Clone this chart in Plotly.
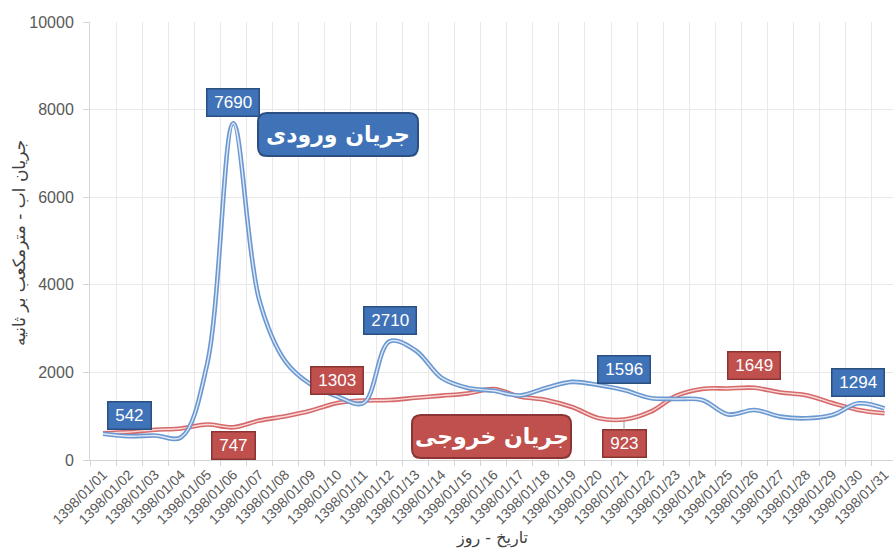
import plotly.graph_objects as go

# ---------------- data ----------------
dates = ["1398/01/01", "1398/01/02", "1398/01/03", "1398/01/04", "1398/01/05",
         "1398/01/06", "1398/01/07", "1398/01/08", "1398/01/09", "1398/01/10",
         "1398/01/11", "1398/01/12", "1398/01/13", "1398/01/14", "1398/01/15",
         "1398/01/16", "1398/01/17", "1398/01/18", "1398/01/19", "1398/01/20",
         "1398/01/21", "1398/01/22", "1398/01/23", "1398/01/24", "1398/01/25",
         "1398/01/26", "1398/01/27", "1398/01/28", "1398/01/29", "1398/01/30",
         "1398/01/31"]

inflow = [600, 542, 560, 520, 2200, 7690, 3650, 2250, 1714, 1450,
          1300, 2710, 2500, 1874, 1646, 1580, 1474, 1646, 1783, 1714,
          1596, 1417, 1394, 1370, 1040, 1143, 990, 953, 1029, 1294, 1177]

outflow = [610, 640, 690, 720, 810, 747, 900, 1000, 1130, 1303,
           1360, 1370, 1420, 1470, 1520, 1620, 1450, 1371, 1211, 960,
           923, 1097, 1463, 1623, 1634, 1649, 1543, 1479, 1300, 1143, 1067]

inflow_labels = [1, 5, 11, 20, 29]      # indices of labelled inflow points
outflow_labels = [5, 9, 20, 25]         # indices of labelled outflow points

y_title = "جریان اب - مترمکعب بر ثانیه"
x_title = "تاریخ - روز"
inflow_name = "جریان ورودی"
outflow_name = "جریان خروجی"

# ---------------- styling ----------------
W, H = 893, 550
ML, MT, MB = 90, 22, 90
PW, PH = W - ML, H - MT - MB
STEP = 26.05   # px per category

BLUE_OUT, BLUE_IN = "#6b98d0", "#dfe9f7"
RED_OUT, RED_IN = "#d66a6a", "#f8dada"
BLUE_BOX, BLUE_EDGE = "#3f72b6", "#2b4f80"
RED_BOX, RED_EDGE = "#c0504d", "#8a3533"
GRID = "#e9e9e9"
AXIS = "#d4d4d4"
TXT = "#595959"
NUMFONT = "Liberation Sans, Arial, sans-serif"
FAFONT = "DejaVu Sans, sans-serif"

x = list(range(len(dates)))

fig = go.Figure()
for ys, c_out, c_in, nm in [(outflow, RED_OUT, RED_IN, outflow_name),
                            (inflow, BLUE_OUT, BLUE_IN, inflow_name)]:
    fig.add_trace(go.Scatter(x=x, y=ys, mode="lines", name=nm,
                             line=dict(color=c_out, width=4.6, shape="spline", smoothing=1.0),
                             hoverinfo="skip", showlegend=False))
    fig.add_trace(go.Scatter(x=x, y=ys, mode="lines", name=nm,
                             line=dict(color=c_in, width=1.4, shape="spline", smoothing=1.0),
                             showlegend=False))


def px2paper(px, py):
    return (px - ML) / PW, (MT + PH - py) / PH


def rounded_rect(x0, y0, x1, y1, r):
    # pixel box -> paper path with rounded corners
    rx, ry = r / PW, r / PH
    a0, b1 = px2paper(x0, y0)   # top-left
    a1, b0 = px2paper(x1, y1)   # bottom-right
    return (f"M{a0+rx},{b1} L{a1-rx},{b1} Q{a1},{b1} {a1},{b1-ry} "
            f"L{a1},{b0+ry} Q{a1},{b0} {a1-rx},{b0} L{a0+rx},{b0} "
            f"Q{a0},{b0} {a0},{b0+ry} L{a0},{b1-ry} Q{a0},{b1} {a0+rx},{b1} Z")


# callout boxes (series names)
for (bx0, by0, bx1, by1), fill, edge, txt in [
        ((258, 113, 418, 156), BLUE_BOX, BLUE_EDGE, inflow_name),
        ((412, 415, 571, 458), RED_BOX, RED_EDGE, outflow_name)]:
    fig.add_shape(type="path", xref="paper", yref="paper",
                  path=rounded_rect(bx0, by0, bx1, by1, 9),
                  fillcolor=fill, line=dict(color=edge, width=2), layer="above")
    cx, cy = px2paper((bx0 + bx1) / 2, (by0 + by1) / 2)
    fig.add_annotation(xref="paper", yref="paper", x=cx, y=cy, text=f"<b>{txt}</b>",
                       showarrow=False, font=dict(family=FAFONT, size=22, color="white"),
                       xanchor="center", yanchor="middle")

# data labels
def add_label(i, val, fill, edge, yshift=0, arrow=False, ay=0):
    t = str(val)
    w = 11 + 9.6 * len(t)
    kw = dict(x=i, y=val, xref="x", yref="y", text=t,
              font=dict(family=NUMFONT, size=17, color="white"),
              bgcolor=fill, bordercolor=edge, borderwidth=1.5, borderpad=1,
              width=w, height=24, align="center", valign="middle")
    if arrow:
        fig.add_annotation(**kw, showarrow=True, arrowhead=0, arrowwidth=1,
                           arrowcolor="#9a9a9a", ax=0, ay=ay)
    else:
        fig.add_annotation(**kw, showarrow=False, yshift=yshift)


for i in inflow_labels:
    add_label(i, inflow[i], BLUE_BOX, BLUE_EDGE, yshift=21)

red_shift = {5: -18, 9: 22, 25: 22}
for i in outflow_labels:
    if i == 20:
        add_label(i, outflow[i], RED_BOX, RED_EDGE, arrow=True, ay=24)
    else:
        add_label(i, outflow[i], RED_BOX, RED_EDGE, yshift=red_shift[i])

# axis titles
ax_, ay_ = px2paper(19, 243)
fig.add_annotation(xref="paper", yref="paper", x=ax_, y=ay_, text=y_title, textangle=-90,
                   showarrow=False, font=dict(family=FAFONT, size=17, color="#404040"),
                   xanchor="center", yanchor="middle")
bx_, by_ = px2paper(492, 538)
fig.add_annotation(xref="paper", yref="paper", x=bx_, y=by_, text=x_title,
                   showarrow=False, font=dict(family=FAFONT, size=16, color="#404040"),
                   xanchor="center", yanchor="middle")

fig.update_layout(
    width=W, height=H,
    margin=dict(l=ML, r=0, t=MT, b=MB, autoexpand=False),
    paper_bgcolor="white", plot_bgcolor="white",
    showlegend=False,
    xaxis=dict(range=[-0.5, -0.5 + PW / STEP], tickmode="array", tickvals=x, ticktext=dates,
               tickangle=-45, showgrid=False, ticks="", zeroline=False, automargin=False,
               ticklabeloverflow="allow",
               showline=True, linecolor=AXIS, linewidth=1,
               tickfont=dict(family=NUMFONT, size=14, color=TXT),
               minor=dict(tickmode="linear", tick0=-0.5, dtick=1, showgrid=True,
                          gridcolor=GRID, gridwidth=1, ticks="outside", ticklen=5,
                          tickcolor=AXIS)),
    yaxis=dict(range=[0, 10000], dtick=2000, tickformat="d", showgrid=True, gridcolor=GRID,
               gridwidth=1, zeroline=False, showline=True, linecolor=AXIS, linewidth=1,
               automargin=False,
               ticks="outside", ticklen=6, tickcolor=AXIS, ticklabelstandoff=6,
               tickfont=dict(family=NUMFONT, size=16, color=TXT)),
)

fig.write_html("out.html", config={"displayModeBar": False},
               post_script="document.body.style.margin='0px';document.body.style.overflow='hidden';")
